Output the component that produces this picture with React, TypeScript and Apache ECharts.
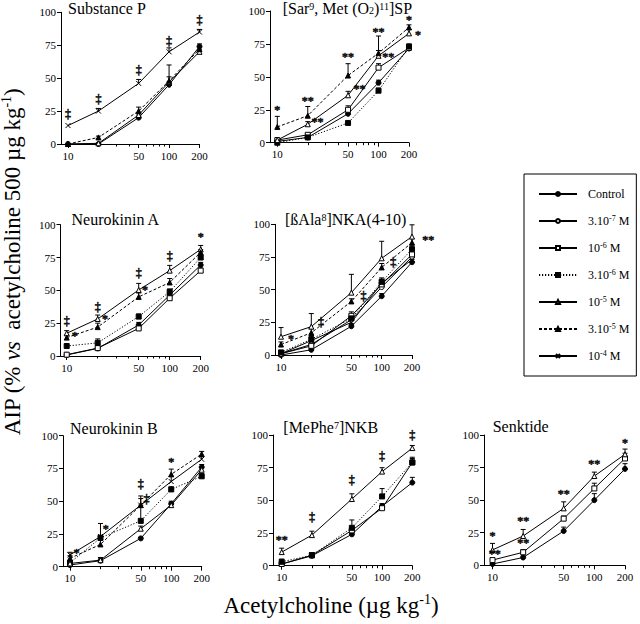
import React, { useEffect, useRef } from 'react';
import * as echarts from 'echarts';

// ---------- data ----------
const DOSES = [10, 20, 50, 100, 200];
const X_LABELS = [10, 50, 100, 200];
const X_MAJOR_TICKS = [10, 50, 100, 200];
const X_MINOR_TICKS = [20, 30, 40, 60, 70, 80, 90];
const Y_TICKS = [0, 25, 50, 75, 100];

const SERIES_NAMES = ['Control', '3.10-7 M', '10-6 M', '3.10-6 M', '10-5 M', '3.10-5 M', '10-4 M'];
const LEGEND_TEXT: Record<string, string> = {
  'Control': 'Control',
  '3.10-7 M': '3.10{sup|-7} M',
  '10-6 M': '10{sup|-6} M',
  '3.10-6 M': '3.10{sup|-6} M',
  '10-5 M': '10{sup|-5} M',
  '3.10-5 M': '3.10{sup|-5} M',
  '10-4 M': '10{sup|-4} M',
};

// Substance P
const spControl = [0, 0, 20, 45, 74];
const spControlErr = [0, 0, 2, 2, 2];
const sp1e5 = [0, 0.5, 22, 47, 70];
const sp1e5Err = [0, 0, 2, 13, 2];
const sp3e5 = [0, 5, 25, 48, 72];
const sp3e5Err = [0, 1, 3, 3, 3];
const sp1e4 = [14, 25, 46, 70, 85];
const sp1e4Err = [0, 2, 3, 3, 2];
const spNotes: [number, number, string][] = [[10, 23, '‡'], [20, 34, '‡'], [50, 56, '‡'], [100, 78, '‡'], [200, 94, '‡']];

// [Sar9, Met(O2)11]SP
const sarControl = [1, 4, 22, 45.5, 71.5];
const sarControlErr = [0, 1, 2, 2, 2];
const sar1e6 = [2, 6, 25, 57, 72];
const sar1e6Err = [0, 1, 3, 3, 2];
const sar3e6 = [0, 4, 15, 39.5, 73];
const sar3e6Err = [0, 0, 1, 2, 2];
const sar1e5 = [2, 14, 36, 66, 83];
const sar1e5Err = [0, 2, 3, 4, 3];
const sar3e5 = [12, 20.5, 51, 68, 87.5];
const sar3e5Err = [8, 7, 9, 13, 2];
const sarNotes: [number, number, string][] = [
  [10, 25, '*'], [20, 32, '**'], [50, 65, '**'], [100, 84, '**'], [200, 93, '*'],
  [25, 16, '**'], [65, 40.5, '**'], [125, 65, '**'], [245, 82, '*'],
];

// Neurokinin A
const nkaControl = [0.8, 5.8, 23.6, 46.4, 69.3];
const nkaControlErr = [0, 1, 2, 2, 2];
const nka1e6 = [1, 6, 21, 44, 65];
const nka1e6Err = [0, 0, 1, 2, 2];
const nka3e6 = [7.6, 10, 30, 49, 75];
const nka3e6Err = [1, 3, 2, 2, 2];
const nka1e5 = [17.3, 28.2, 50.3, 65, 81.2];
const nka1e5Err = [2, 3, 5, 4, 3];
const nka3e5 = [14, 22, 45, 56, 79];
const nka3e5Err = [2, 3, 3, 3, 2];
const nkaNotes: [number, number, string][] = [
  [10, 27, '‡'], [20, 37, '‡'], [50, 63.5, '‡'], [100, 76, '‡'], [200, 91, '*'],
  [12, 15, '*'], [23.6, 28, '*'], [57.6, 50, '*'],
];

// [ßAla8]NKA(4-10)
const alaControl = [0, 4, 22, 45, 71];
const alaControlErr = [0, 1, 2, 2, 2];
const ala3e7 = [1, 8, 27, 52, 75];
const ala3e7Err = [0, 1, 2, 2, 2];
const ala1e6 = [1, 7, 30, 54, 77];
const ala1e6Err = [1, 2, 3, 3, 3];
const ala3e6 = [2, 12, 28, 56, 81];
const ala3e6Err = [1, 3, 3, 3, 3];
const ala1e5 = [14, 21.7, 47.7, 74, 90.6];
const ala1e5Err = [7, 10, 14, 13, 9];
const ala3e5 = [8, 17, 41, 67, 86];
const ala3e5Err = [2, 3, 2, 3, 3];
const ala1e4 = [1, 11, 25, 55, 73];
const ala1e4Err = [0, 3, 3, 3, 2];
const alaNotes: [number, number, string][] = [
  [12.6, 12, '*'], [25, 25, '‡'], [66, 45, '‡'], [130, 71, '‡'], [290, 88, '**'],
];

// Neurokinin B
const nkbControl = [1.3, 4.6, 21.6, 48, 76];
const nkbControlErr = [0, 2, 1, 2, 2];
const nkb3e6 = [3, 22, 35, 59, 69];
const nkb3e6Err = [0, 2, 12, 2, 2];
const nkb1e5 = [2.5, 5, 29, 47, 74];
const nkb1e5Err = [0, 2, 2, 2, 2];
const nkb3e5 = [6.4, 17, 47, 70.5, 86];
const nkb3e5Err = [2, 3, 5, 4, 2];
const nkb1e4 = [9, 23, 47, 65, 82];
const nkb1e4Err = [2, 10, 7, 4, 2];
const nkbNotes: [number, number, string][] = [
  [50, 63.5, '‡'], [57, 51.5, '‡'], [100, 80, '*'], [22.5, 29, '*'], [11.6, 10.7, '*'],
];

// [MePhe7]NKB
const mepControl = [1.3, 7.6, 24, 45.5, 63.6];
const mepControlErr = [0, 2, 2, 2, 4];
const mep1e6 = [1.3, 8, 27, 44, 79];
const mep1e6Err = [1, 2, 3, 3, 4];
const mep3e6 = [3, 8, 29, 53, 79];
const mep3e6Err = [2, 2, 6, 6, 3];
const mep1e5 = [10.4, 23.4, 51, 72, 90];
const mep1e5Err = [3, 3, 4, 3, 2];
const mepNotes: [number, number, string][] = [
  [10, 19.6, '**'], [20, 37.4, '‡'], [50, 65.4, '‡'], [100, 83.7, '‡'], [200, 99.7, '‡'],
];

// Senktide
const senControl = [1, 6, 26.3, 50, 74];
const senControlErr = [0, 1, 3, 5, 4];
const sen1e6 = [4, 10, 35.8, 59, 82];
const sen1e6Err = [1, 2, 2, 4, 4];
const sen1e5 = [11.8, 22.5, 43.7, 68.5, 85.2];
const sen1e5Err = [5, 5, 5, 3, 4];
const senNotes: [number, number, string][] = [
  [10, 22.5, '*'], [10.5, 8.5, '**'], [20, 34, '**'], [20, 17, '**'], [50, 55, '**'], [100, 77.5, '**'], [200, 94, '*'],
];

// ---------- layout / style ----------
const FONT = '"Liberation Serif", "Times New Roman", Times, serif';

type Line = { name: string; y: number[]; err: number[] };
type Panel = { title: string; tx: number; ty: number; lines: Line[]; notes: [number, number, string][] };

const PANELS: Panel[] = [
  { title: 'Substance P', tx: 68, ty: 8, notes: spNotes, lines: [
    { name: 'Control', y: spControl, err: spControlErr },
    { name: '10-5 M', y: sp1e5, err: sp1e5Err },
    { name: '3.10-5 M', y: sp3e5, err: sp3e5Err },
    { name: '10-4 M', y: sp1e4, err: sp1e4Err },
  ] },
  { title: '[Sar{sup|9}, Met (O{sub|2}){sup|11}]SP', tx: 282.7, ty: 8, notes: sarNotes, lines: [
    { name: 'Control', y: sarControl, err: sarControlErr },
    { name: '10-6 M', y: sar1e6, err: sar1e6Err },
    { name: '3.10-6 M', y: sar3e6, err: sar3e6Err },
    { name: '10-5 M', y: sar1e5, err: sar1e5Err },
    { name: '3.10-5 M', y: sar3e5, err: sar3e5Err },
  ] },
  { title: 'Neurokinin A', tx: 71.5, ty: 219.5, notes: nkaNotes, lines: [
    { name: 'Control', y: nkaControl, err: nkaControlErr },
    { name: '10-6 M', y: nka1e6, err: nka1e6Err },
    { name: '3.10-6 M', y: nka3e6, err: nka3e6Err },
    { name: '10-5 M', y: nka1e5, err: nka1e5Err },
    { name: '3.10-5 M', y: nka3e5, err: nka3e5Err },
  ] },
  { title: '[ßAla{sup|8}]NKA(4-10)', tx: 285, ty: 219, notes: alaNotes, lines: [
    { name: 'Control', y: alaControl, err: alaControlErr },
    { name: '3.10-7 M', y: ala3e7, err: ala3e7Err },
    { name: '10-6 M', y: ala1e6, err: ala1e6Err },
    { name: '3.10-6 M', y: ala3e6, err: ala3e6Err },
    { name: '10-5 M', y: ala1e5, err: ala1e5Err },
    { name: '3.10-5 M', y: ala3e5, err: ala3e5Err },
    { name: '10-4 M', y: ala1e4, err: ala1e4Err },
  ] },
  { title: 'Neurokinin B', tx: 70, ty: 428.5, notes: nkbNotes, lines: [
    { name: 'Control', y: nkbControl, err: nkbControlErr },
    { name: '3.10-6 M', y: nkb3e6, err: nkb3e6Err },
    { name: '10-5 M', y: nkb1e5, err: nkb1e5Err },
    { name: '3.10-5 M', y: nkb3e5, err: nkb3e5Err },
    { name: '10-4 M', y: nkb1e4, err: nkb1e4Err },
  ] },
  { title: '[MePhe{sup|7}]NKB', tx: 283.3, ty: 427.5, notes: mepNotes, lines: [
    { name: 'Control', y: mepControl, err: mepControlErr },
    { name: '10-6 M', y: mep1e6, err: mep1e6Err },
    { name: '3.10-6 M', y: mep3e6, err: mep3e6Err },
    { name: '10-5 M', y: mep1e5, err: mep1e5Err },
  ] },
  { title: 'Senktide', tx: 492.7, ty: 426.5, notes: senNotes, lines: [
    { name: 'Control', y: senControl, err: senControlErr },
    { name: '10-6 M', y: sen1e6, err: sen1e6Err },
    { name: '10-5 M', y: sen1e5, err: sen1e5Err },
  ] },
];

const GEOM = [
  { left: 61, top: 12.3, x10: 68, x200: 199.5, bottom: 144 },
  { left: 270, top: 11, x10: 277.3, x200: 409, bottom: 142.7 },
  { left: 60.5, top: 224.7, x10: 66.7, x200: 200.7, bottom: 356 },
  { left: 275, top: 224.3, x10: 281, x200: 412, bottom: 355 },
  { left: 63, top: 435.7, x10: 70, x200: 201.7, bottom: 566.7 },
  { left: 273, top: 435, x10: 281.7, x200: 412.3, bottom: 565.7 },
  { left: 484, top: 435, x10: 492.5, x200: 625, bottom: 565.3 },
];

const CROSS = 'path://M0,0L10,10M10,0L0,10';
const SERIES_STYLE: Record<string, { symbol: string; fill: string; dash: any }> = {
  'Control': { symbol: 'circle', fill: '#000', dash: 'solid' },
  '3.10-7 M': { symbol: 'circle', fill: '#fff', dash: 'solid' },
  '10-6 M': { symbol: 'rect', fill: '#fff', dash: 'solid' },
  '3.10-6 M': { symbol: 'rect', fill: '#000', dash: [1.2, 1.8] },
  '10-5 M': { symbol: 'triangle', fill: '#fff', dash: 'solid' },
  '3.10-5 M': { symbol: 'triangle', fill: '#000', dash: [3, 2] },
  '10-4 M': { symbol: CROSS, fill: 'rgba(0,0,0,0)', dash: 'solid' },
};

const lg = (d: number) => Math.log10(d);

function buildOption() {
  const grid: any[] = [];
  const xAxis: any[] = [];
  const yAxis: any[] = [];
  const series: any[] = [];
  const graphic: any[] = [];

  PANELS.forEach((p, gi) => {
    const g = GEOM[gi];
    const perDec = (g.x200 - g.x10) / lg(20);
    const xmin = 1 - (g.x10 - g.left) / perDec;
    const xmax = lg(200);
    grid.push({ left: g.left, top: g.top, width: g.x200 - g.left, height: g.bottom - g.top, outerBoundsMode: 'none' });
    xAxis.push({
      type: 'value', gridIndex: gi, min: xmin, max: xmax, position: 'bottom',
      axisLine: { show: true, onZero: false, lineStyle: { color: '#000', width: 1 } },
      axisTick: { show: true, length: 4, customValues: X_MAJOR_TICKS.map(lg), lineStyle: { color: '#000', width: 1 } },
      axisLabel: {
        show: true, customValues: X_LABELS.map(lg), margin: 6,
        formatter: (v: number) => String(Math.round(Math.pow(10, v))),
        fontFamily: FONT, fontSize: 11, color: '#000',
      },
      splitLine: { show: false },
    });
    xAxis.push({
      type: 'value', gridIndex: gi, min: xmin, max: xmax, position: 'bottom',
      axisLine: { show: false, onZero: false },
      axisTick: { show: true, length: 2.5, customValues: X_MINOR_TICKS.map(lg), lineStyle: { color: '#000', width: 1 } },
      axisLabel: { show: false },
      splitLine: { show: false },
    });
    yAxis.push({
      type: 'value', gridIndex: gi, min: 0, max: 100, interval: 25,
      axisLine: { show: true, lineStyle: { color: '#000', width: 1 } },
      axisTick: { show: true, length: 4, customValues: Y_TICKS, lineStyle: { color: '#000', width: 1 } },
      axisLabel: { show: true, customValues: Y_TICKS, margin: 5, fontFamily: FONT, fontSize: 11, color: '#000' },
      splitLine: { show: false },
    });

    const xs = DOSES.map(lg);
    p.lines.forEach((l) => {
      const st = SERIES_STYLE[l.name];
      series.push({
        type: 'line', name: l.name, xAxisIndex: gi * 2, yAxisIndex: gi,
        data: xs.map((x, i) => [x, l.y[i]]),
        symbol: st.symbol, symbolSize: 5, showSymbol: true, z: 3,
        lineStyle: { color: '#000', width: 1, type: st.dash },
        itemStyle: { color: st.fill, borderColor: '#000', borderWidth: 1 },
        emphasis: { disabled: true },
      });
      const errData = xs.map((x, i) => [x, l.y[i], l.err[i]]).filter((d) => d[2] > 0);
      if (errData.length) {
        series.push({
          type: 'custom', name: 'err', xAxisIndex: gi * 2, yAxisIndex: gi, z: 2, silent: true,
          itemStyle: { color: '#000' },
          data: errData,
          renderItem: (_params: any, api: any) => {
            const p0 = api.coord([api.value(0), api.value(1)]);
            const p1 = api.coord([api.value(0), api.value(1) + api.value(2)]);
            return {
              type: 'group',
              children: [
                { type: 'line', shape: { x1: p0[0], y1: p0[1], x2: p0[0], y2: p1[1] }, style: { stroke: '#000', lineWidth: 1 } },
                { type: 'line', shape: { x1: p0[0] - 2.5, y1: p1[1], x2: p0[0] + 2.5, y2: p1[1] }, style: { stroke: '#000', lineWidth: 1 } },
              ],
            };
          },
        });
      }
    });

    const noteTexts = p.notes.map((n) => n[2]);
    series.push({
      type: 'scatter', name: 'notes', xAxisIndex: gi * 2, yAxisIndex: gi, z: 5, silent: true, clip: false,
      symbol: 'circle', symbolSize: 0,
      itemStyle: { color: '#000' },
      data: p.notes.map((n) => [lg(n[0]), n[1]]),
      label: {
        show: true, position: 'inside',
        formatter: (pp: any) => noteTexts[pp.dataIndex],
        color: '#000', fontFamily: FONT, fontSize: 12, fontWeight: 'normal', lineHeight: 10,
        textBorderWidth: 0.7, textBorderColor: '#000',
      },
      emphasis: { disabled: true },
    });

    graphic.push({
      type: 'text', x: p.tx, y: p.ty,
      style: {
        text: p.title, fill: '#000', fontFamily: FONT, fontSize: 16, lineHeight: 14,
        verticalAlign: 'middle', align: 'left',
        rich: {
          sup: { fontFamily: FONT, fontSize: 10, verticalAlign: 'top', lineHeight: 14, fill: '#000' },
          sub: { fontFamily: FONT, fontSize: 10, verticalAlign: 'bottom', lineHeight: 14, fill: '#000' },
        },
      },
    });
  });

  graphic.push({
    type: 'text', x: 12, y: 262, rotation: Math.PI / 2,
    style: {
      text: 'AIP (% {it|vs}  acetylcholine 500 µg kg{sup|-1})', fill: '#000', fontFamily: FONT, fontSize: 23,
      lineHeight: 26, align: 'center', verticalAlign: 'middle',
      rich: {
        it: { fontFamily: FONT, fontSize: 23, fontStyle: 'italic', lineHeight: 26, fill: '#000' },
        sup: { fontFamily: FONT, fontSize: 14, verticalAlign: 'top', lineHeight: 26, fill: '#000' },
      },
    },
  });
  graphic.push({
    type: 'text', x: 331, y: 605,
    style: {
      text: 'Acetylcholine (µg kg{sup|-1})', fill: '#000', fontFamily: FONT, fontSize: 23,
      lineHeight: 26, align: 'center', verticalAlign: 'middle',
      rich: {
        sup: { fontFamily: FONT, fontSize: 14, verticalAlign: 'top', lineHeight: 26, fill: '#000' },
      },
    },
  });

  return {
    animation: false,
    backgroundColor: '#fff',
    grid, xAxis, yAxis, series, graphic,
    legend: {
      data: SERIES_NAMES,
      orient: 'vertical',
      left: 524, top: 174,
      padding: [13, 7, 13, 14],
      itemGap: 13,
      itemWidth: 38,
      itemHeight: 5,
      borderColor: '#000',
      borderWidth: 1,
      selectedMode: false,
      formatter: (name: string) => LEGEND_TEXT[name] || name,
      textStyle: {
        fontFamily: FONT, fontSize: 12, color: '#000', lineHeight: 14, padding: [0, 0, 0, 6],
        rich: {
          sup: { fontFamily: FONT, fontSize: 8, verticalAlign: 'top', lineHeight: 14, color: '#000' },
        },
      },
    },
  };
}

export default function App() {
  const ref = useRef<HTMLDivElement>(null);
  useEffect(() => {
    if (!ref.current) return;
    const chart = echarts.init(ref.current, undefined, { renderer: 'svg' });
    chart.setOption(buildOption() as any);
    return () => chart.dispose();
  }, []);
  return (
    <div
      ref={ref}
      style={{ position: 'fixed', left: 0, top: 0, width: 640, height: 624, background: '#fff' }}
    />
  );
}
